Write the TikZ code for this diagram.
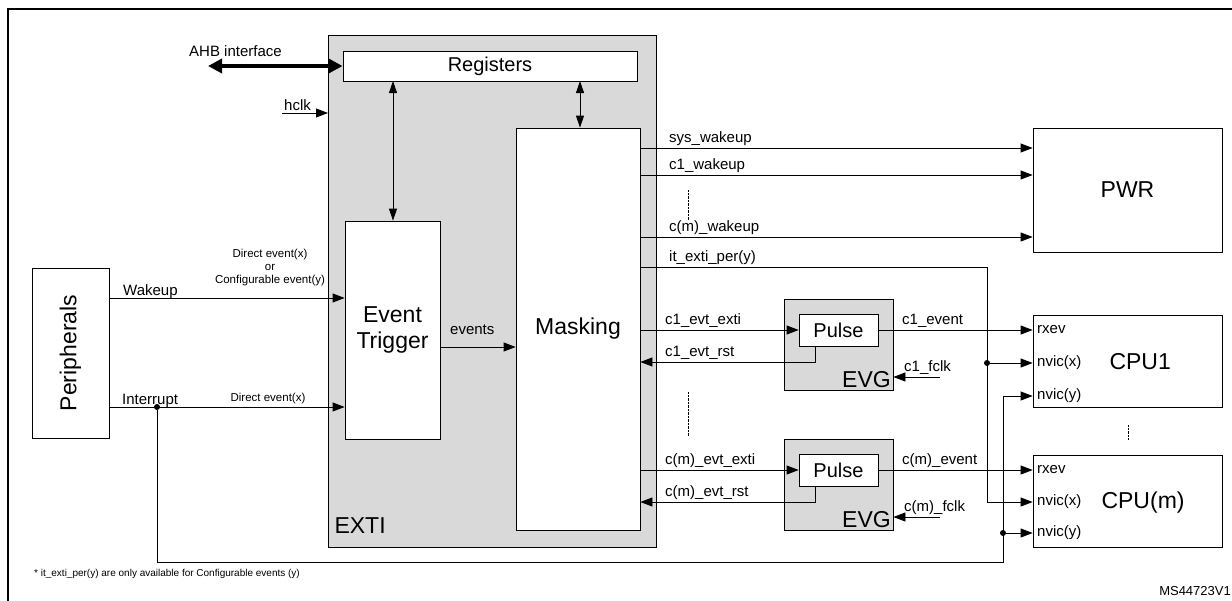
\documentclass[tikz,border=0pt]{standalone}
\usepackage{fontspec}
\setmainfont{Liberation Sans}
\usetikzlibrary{arrows.meta}
\begin{document}
\begin{tikzpicture}[x=1pt,y=-1pt,
  box/.style={draw,thick,fill=white,inner sep=0},
  gbox/.style={draw,thick,fill=gray!30,inner sep=0},
  arr/.style={thick,-{Triangle[length=12pt,width=9pt]}},
  darr/.style={thick,{Triangle[length=12pt,width=8pt]}-{Triangle[length=12pt,width=8pt]}},
  lbl/.style={font=\fontsize{15}{16}\selectfont,anchor=south west,inner sep=1pt},
  sm/.style={font=\fontsize{11.5}{13}\selectfont,inner sep=1pt},
  big/.style={font=\fontsize{23}{26}\selectfont},
  dotn/.style={circle,fill,inner sep=0,minimum size=6pt},
  dots/.style={densely dotted}]
\useasboundingbox (0,0) rectangle (1232,600);
\draw[line width=1.5pt] (8,640) -- (8,9) -- (1260,9);
% EXTI
\node[gbox,minimum width=328pt,minimum height=512pt] (exti) at (492,291) {};
\node[big,anchor=south west] at (331,537) {EXTI};
\node[box,minimum width=294pt,minimum height=30pt,font=\fontsize{20}{22}\selectfont] (reg) at (490,66) {Registers};
\node[box,minimum width=95pt,minimum height=218pt,big,align=center] (trig) at (392.5,330) {Event\\Trigger};
\node[box,minimum width=124pt,minimum height=402pt,big] (mask) at (578,329) {Masking};
\node[box,minimum width=77pt,minimum height=170pt] (per) at (70.5,353) {};
\node[big,rotate=90] at (per.center) {Peripherals};
\node[box,minimum width=189pt,minimum height=124pt,big] (pwr) at (1127.5,190) {PWR};
% AHB
\coordinate (ahb) at (208,66);
\draw[line width=4pt,{Triangle[length=14pt,width=14pt]}-{Triangle[length=14pt,width=14pt]}] (ahb) -- (reg.west);
\node[lbl] at (188,58) {AHB interface};
\coordinate (hclk) at (282,113);
\draw[arr] (hclk) -- (328,113);
\node[lbl] at (283,112) {hclk};
\draw[darr] (393,81) -- (trig.north -| 393,0);
\draw[darr] (580,81) -- (mask.north -| 580,0);
% inputs
\draw[arr] (per.east |- 0,298) -- (trig.west |- 0,298);
\node[lbl] at (122,300) {Wakeup};
\node[sm,align=center] at (270,268) {Direct event(x)\\or\\Configurable event(y)};
\draw[arr] (per.east |- 0,407) -- (trig.west |- 0,407);
\node[lbl] at (121,409) {Interrupt};
\node[sm,anchor=south] at (268,405) {Direct event(x)};
\draw[arr] (trig.east |- 0,347) -- (mask.west |- 0,347);
\node[lbl] at (449,336) {events};
% wakeups
\draw[arr] (mask.east |- 0,148) -- (pwr.west |- 0,148);
\node[lbl] at (668,147) {sys\_wakeup};
\draw[arr] (mask.east |- 0,175) -- (pwr.west |- 0,175);
\node[lbl] at (668,174) {c1\_wakeup};
\draw[dots] (688,190) -- (688,220);
\draw[arr] (mask.east |- 0,237) -- (pwr.west |- 0,237);
\node[lbl] at (668,236) {c(m)\_wakeup};
\node[lbl] at (668,266) {it\_exti\_per(y)};
% CPUs
\node[box,minimum width=189pt,minimum height=92pt] (cpu1) at (1127.5,361) {};
\node[big,anchor=west] at (1106,362) {CPU1};
\node[box,minimum width=189pt,minimum height=92pt] (cpum) at (1127.5,501) {};
\node[big,anchor=west] at (1098,503) {CPU(m)};
\node[lbl,anchor=west] at (1036,330) {rxev};
\node[lbl,anchor=west] at (1036,470) {rxev};
\node[lbl,anchor=west] at (1036,363) {nvic(x)};
\node[lbl,anchor=west] at (1036,396) {nvic(y)};
\node[lbl,anchor=west] at (1036,502) {nvic(x)};
\node[lbl,anchor=west] at (1036,533) {nvic(y)};
\draw[dots] (1128,425) -- (1128,440);
\draw[dots] (688,392) -- (688,436);
% EVGs
\foreach \n/\yt/\nm in {1/299/c1,2/439/c(m)}{
  \pgfmathsetmacro{\ye}{\yt+31}
  \pgfmathsetmacro{\yr}{\yt+63}
  \pgfmathsetmacro{\yf}{\yt+78}
  \node[gbox,minimum width=109pt,minimum height=91pt] (evg\n) at (838.5,\yt+45.5) {};
  \node[big,anchor=south east,inner sep=1pt] at (892,\yt+90) {EVG};
  \node[box,minimum width=79pt,minimum height=32pt,font=\fontsize{20}{22}\selectfont] (pul\n) at (838.5,\ye) {Pulse};
  \draw[arr] (mask.east |- 0,\ye) -- (pul\n.west);
  \node[lbl] at (664,\ye-1) {\nm\_evt\_exti};
  \draw[arr] (815,\ye+16) -- (815,\yr) -- (mask.east |- 0,\yr);
  \node[lbl] at (664,\yr-1) {\nm\_evt\_rst};
  \coordinate (fc\n) at (940,\yf);
  \draw[arr] (fc\n) -- (evg\n.east |- 0,\yf);
  \node[lbl] at (903,\yf-1) {\nm\_fclk};
  \node[lbl] at (901,\ye-1) {\nm\_event};
}
\draw[arr] (pul1.east) -- (cpu1.west |- 0,330);
\draw[arr] (pul2.east) -- (cpum.west |- 0,470);
% it_exti_per
\draw[arr] (mask.east |- 0,267) -- (987,267) -- (987,502) -- (cpum.west |- 0,502);
\node[dotn] (d1) at (987,363) {};
\draw[arr] (d1) -- (cpu1.west |- 0,363);
% interrupt
\node[dotn] (d0) at (157,407) {};
\draw[arr] (d0) -- (157,562) -- (1003,562) -- (1003,396) -- (cpu1.west |- 0,396);
\node[dotn] (d2) at (1003,533) {};
\draw[arr] (d2) -- (cpum.west |- 0,533);
% notes
\node[anchor=west,font=\fontsize{10}{11}\selectfont,inner sep=0] at (34,574) {* it\_exti\_per(y) are only available for Configurable events (y)};
\node[anchor=east,font=\fontsize{13}{14}\selectfont,inner sep=0] at (1231,591) {MS44723V1};
\end{tikzpicture}
\end{document}
